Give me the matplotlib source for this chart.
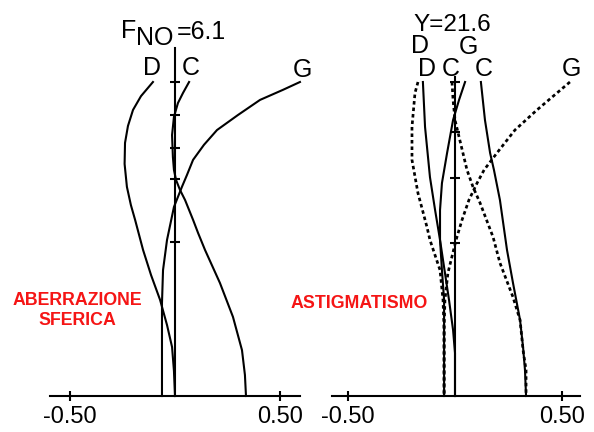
import matplotlib
matplotlib.use("Agg")
import matplotlib.pyplot as plt

plt.rcParams['font.family'] = ['Liberation Sans', 'DejaVu Sans']

W, H = 594, 432

# spherical aberration (relative height h, longitudinal aberration)
sph_d_h = [1.0, 0.955, 0.911, 0.860, 0.806, 0.739, 0.666, 0.608, 0.561, 0.465, 0.385, 0.306, 0.226, 0.156, 0.080, 0.0]
sph_d_x = [-0.105, -0.162, -0.200, -0.224, -0.238, -0.240, -0.229, -0.210, -0.190, -0.152, -0.114, -0.071, -0.038, -0.014, -0.005, 0.0]

sph_c_h = [1.0, 0.965, 0.933, 0.889, 0.831, 0.761, 0.720, 0.688, 0.656, 0.624, 0.561, 0.519, 0.465, 0.360, 0.252, 0.146, 0.067, 0.0]
sph_c_x = [0.067, 0.038, 0.014, -0.005, -0.014, -0.010, -0.005, 0.005, 0.024, 0.048, 0.086, 0.110, 0.143, 0.214, 0.276, 0.319, 0.333, 0.338]

sph_g_h = [1.0, 0.975, 0.943, 0.895, 0.847, 0.800, 0.752, 0.704, 0.666, 0.602, 0.497, 0.401, 0.296, 0.0]
sph_g_x = [0.595, 0.514, 0.405, 0.300, 0.200, 0.138, 0.086, 0.057, 0.033, -0.005, -0.038, -0.057, -0.062, -0.062]

# astigmatism (solid = sagittal, dotted = meridional)
ast_d_m_h = [1.0, 0.965, 0.857, 0.752, 0.646, 0.538, 0.497, 0.401, 0.306, 0.210, 0.0]
ast_d_m_x = [-0.173, -0.187, -0.201, -0.201, -0.173, -0.131, -0.117, -0.070, -0.056, -0.051, -0.051]

ast_d_s_h = [1.0, 0.857, 0.697, 0.592, 0.497, 0.392, 0.306, 0.210, 0.137, 0.0]
ast_d_s_x = [-0.150, -0.140, -0.117, -0.093, -0.070, -0.047, -0.028, -0.009, 0.0, 0.0]

ast_g_s_h = [1.0, 0.943, 0.879, 0.774, 0.678, 0.592, 0.497, 0.401, 0.306, 0.0]
ast_g_s_x = [0.047, 0.019, -0.009, -0.037, -0.061, -0.070, -0.070, -0.061, -0.051, -0.051]

ast_c_m_h = [1.0, 0.943, 0.879, 0.774, 0.720, 0.666, 0.615, 0.506, 0.424, 0.315, 0.242, 0.146, 0.083, 0.0]
ast_c_m_x = [-0.014, -0.009, 0.0, 0.037, 0.056, 0.084, 0.117, 0.178, 0.210, 0.271, 0.304, 0.318, 0.332, 0.332]

ast_c_s_h = [1.0, 0.879, 0.774, 0.720, 0.624, 0.465, 0.360, 0.242, 0.156, 0.083, 0.0]
ast_c_s_x = [0.121, 0.140, 0.164, 0.182, 0.210, 0.243, 0.271, 0.304, 0.318, 0.327, 0.332]

ast_g_m_h = [1.0, 0.911, 0.847, 0.774, 0.720, 0.678, 0.624, 0.561, 0.497, 0.392, 0.306, 0.210, 0.0]
ast_g_m_x = [0.537, 0.383, 0.280, 0.196, 0.136, 0.103, 0.065, 0.033, 0.005, -0.033, -0.047, -0.051, -0.051]

x_ticks = [-0.5, 0.5]
x_tick_labels = ['-0.50', '0.50']
sph_h_ticks = [0.49, 0.69, 0.79, 0.895, 1.0]
ast_h_ticks = [0.487, 0.694, 0.84, 1.0]

LW = 1.5
DOT = (0, (1.3, 1.1))


def fx(px):
    return px / W


def fy(py):
    return 1 - py / H


def add_panel(left_px, right_px, zero_px, scale, xspan, htop, hticks):
    ax = fig.add_axes([fx(left_px), fy(405), (right_px - left_px) / W, (405 - 30) / H])
    ax.set_xlim((left_px - zero_px) / scale, (right_px - zero_px) / scale)
    ax.set_ylim((396 - 405) / 314, (396 - 30) / 314)
    for s in ['top', 'right']:
        ax.spines[s].set_visible(False)
    ax.spines['left'].set_position(('data', 0))
    ax.spines['bottom'].set_position(('data', 0))
    ax.spines['left'].set_bounds(0, htop)
    ax.spines['bottom'].set_bounds(*xspan)
    for s in ['left', 'bottom']:
        ax.spines[s].set_linewidth(LW)
    ax.set_xticks(x_ticks, labels=x_tick_labels)
    ax.set_yticks(hticks, labels=[])
    ax.tick_params(axis='both', direction='inout', length=7, width=LW)
    ax.tick_params(axis='x', labelsize=17, pad=4)
    ax.patch.set_alpha(0)
    return ax


fig = plt.figure(figsize=(W / 100, H / 100), dpi=100)

ax1 = add_panel(10, 310, 175, 210, (-0.595, 0.595), 1.108, sph_h_ticks)
ax1.plot(sph_d_x, sph_d_h, color='black', lw=LW)
ax1.plot(sph_c_x, sph_c_h, color='black', lw=LW)
ax1.plot(sph_g_x, sph_g_h, color='black', lw=LW)

ax2 = add_panel(320, 590, 455, 214, (-0.575, 0.584), 1.016, ast_h_ticks)
ax2.plot(ast_d_s_x, ast_d_s_h, color='black', lw=LW)
ax2.plot(ast_g_s_x, ast_g_s_h, color='black', lw=LW)
ax2.plot(ast_c_s_x, ast_c_s_h, color='black', lw=LW)
ax2.plot(ast_d_m_x, ast_d_m_h, color='black', lw=LW * 1.3, ls=DOT)
ax2.plot(ast_c_m_x, ast_c_m_h, color='black', lw=LW * 1.3, ls=DOT)
ax2.plot(ast_g_m_x, ast_g_m_h, color='black', lw=LW * 1.3, ls=DOT)

# headings and curve labels
fs = 18
fig.text(fx(121), fy(38), 'F', fontsize=fs, va='baseline')
fig.text(fx(136), fy(45), 'NO', fontsize=fs, va='baseline')
fig.text(fx(177), fy(39), '=6.1', fontsize=fs, va='baseline')
fig.text(fx(152), fy(75), 'D', fontsize=fs, ha='center', va='baseline')
fig.text(fx(191), fy(75), 'C', fontsize=fs, ha='center', va='baseline')
fig.text(fx(302), fy(77), 'G', fontsize=fs, ha='center', va='baseline')

fig.text(fx(413), fy(31), 'Y=21.6', fontsize=fs - 0.5, va='baseline')
fig.text(fx(420), fy(53), 'D', fontsize=fs, ha='center', va='baseline')
fig.text(fx(468), fy(54), 'G', fontsize=fs, ha='center', va='baseline')
fig.text(fx(427), fy(76), 'D', fontsize=fs, ha='center', va='baseline')
fig.text(fx(451), fy(76), 'C', fontsize=fs, ha='center', va='baseline')
fig.text(fx(484), fy(76), 'C', fontsize=fs, ha='center', va='baseline')
fig.text(fx(571), fy(76), 'G', fontsize=fs, ha='center', va='baseline')

red = '#f51515'
fig.text(fx(77), fy(305), 'ABERRAZIONE', fontsize=12.8, fontweight='bold', color=red,
         ha='center', va='baseline')
fig.text(fx(77), fy(325), 'SFERICA', fontsize=12.8, fontweight='bold', color=red,
         ha='center', va='baseline')
fig.text(fx(359), fy(308), 'ASTIGMATISMO', fontsize=12.8, fontweight='bold', color=red,
         ha='center', va='baseline')

fig.savefig('out.png', dpi=100)
